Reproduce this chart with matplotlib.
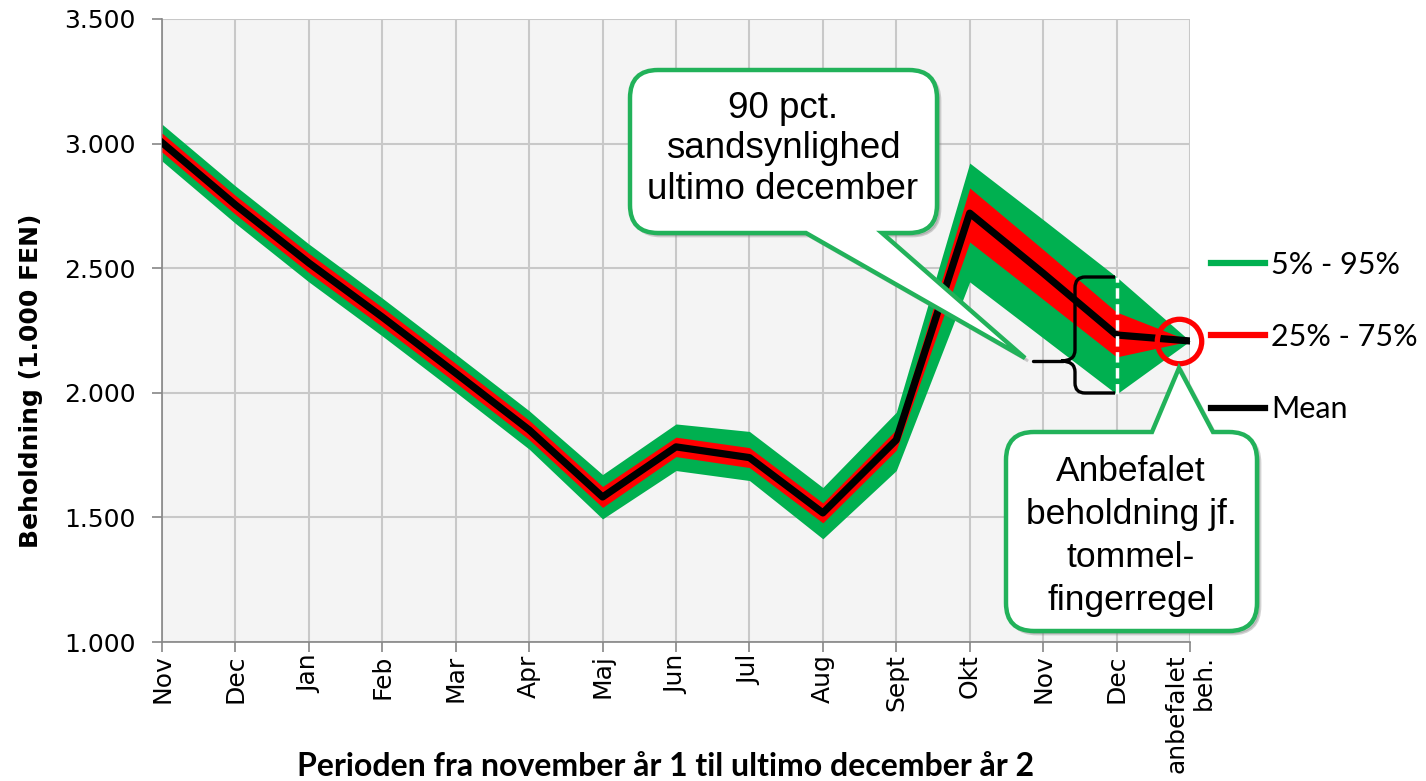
import numpy as np
import matplotlib.pyplot as plt
from matplotlib.path import Path
from matplotlib.patches import PathPatch
from matplotlib.lines import Line2D

W, H = 1426, 781

# periods on the x axis
months = ['Nov', 'Dec', 'Jan', 'Feb', 'Mar', 'Apr', 'Maj', 'Jun', 'Jul',
          'Aug', 'Sept', 'Okt', 'Nov', 'Dec', 'anbefalet\nbeh.']

# beholdning (1.000 FEN)
mean = [3004, 2754, 2521, 2304, 2079, 1851, 1582, 1783, 1740, 1518, 1811, 2721, 2480, 2232, 2208]
p95 = [3078, 2830, 2597, 2380, 2155, 1928, 1672, 1875, 1845, 1620, 1922, 2922, 2695, 2465, 2208]
p5 = [2930, 2680, 2445, 2228, 2003, 1774, 1494, 1688, 1648, 1414, 1688, 2445, 2220, 1995, 2208]
p75 = [3042, 2792, 2560, 2343, 2118, 1890, 1624, 1822, 1780, 1558, 1852, 2822, 2575, 2324, 2208]
p25 = [2966, 2716, 2482, 2265, 2040, 1812, 1540, 1744, 1700, 1478, 1770, 2605, 2375, 2144, 2208]

yticks = [1000, 1500, 2000, 2500, 3000, 3500]

GREEN = '#00b050'
RED = '#ff0000'
BOX_GREEN = '#22b25a'
AXCOL = '#868686'

x = np.arange(len(months))

fig = plt.figure(figsize=(W / 100, H / 100), dpi=100)
ax = fig.add_axes([162 / W, 1 - 642 / H, (1190 - 162) / W, (642 - 19) / H])
ax.set_facecolor('#f4f4f4')

ax.fill_between(x, p5, p95, color=GREEN, lw=0, zorder=2)
ax.fill_between(x, p25, p75, color=RED, lw=0, zorder=3)
ax.plot(x, mean, color='black', lw=5.2, solid_joinstyle='round', zorder=4)

# white dashed marker at ultimo december
ax.vlines(13, p5[13], p95[13], colors='white', linestyles=(0, (3, 1.6)), lw=2.5, zorder=5)

# red ring around recommended holding
ax.plot(13.85, mean[-1], marker='o', ms=32, mfc='none', mec=RED, mew=3.8,
        clip_on=False, zorder=6)

ax.set_xlim(0, 14)
ax.set_ylim(1000, 3500)
ax.set_xticks(x)
ax.set_xticklabels(months, rotation=90, fontsize=18, family='DejaVu Sans')
for lbl in ax.get_xticklabels():
    lbl.set_multialignment('right')
ax.set_yticks(yticks)
ax.set_yticklabels([f'{v:,}'.replace(',', '.') for v in yticks], fontsize=18,
                   family='DejaVu Sans')

ax.grid(color='#c8c8c8', lw=1.5, zorder=0)
ax.set_axisbelow(True)
for side in ['top', 'right']:
    ax.spines[side].set_visible(False)
for side in ['left', 'bottom']:
    ax.spines[side].set_color(AXCOL)
    ax.spines[side].set_linewidth(1.2)
ax.tick_params(axis='both', direction='out', length=7, width=1.2, color=AXCOL)
ax.tick_params(axis='y', pad=12)
ax.tick_params(axis='x', pad=2)

ax.set_ylabel('Beholdning (1.000 FEN)', fontsize=18, fontweight='bold', family='DejaVu Sans')
ax.yaxis.set_label_coords(-0.116, 0.42)
ax.set_xlabel('Perioden fra november år 1 til ultimo december år 2', fontsize=23,
              fontweight='bold', family='Lato')
ax.xaxis.set_label_coords(0.49, -0.176)

handles = [Line2D([], [], color=GREEN, lw=4.5),
           Line2D([], [], color=RED, lw=4.5),
           Line2D([], [], color='black', lw=4.5)]
ax.legend(handles, ['5% - 95%', '25% - 75%', 'Mean'], loc='center left',
          bbox_to_anchor=(1211 / W, 1 - 337 / H), bbox_transform=fig.transFigure,
          frameon=False, prop={'family': 'Lato', 'size': 22},
          handlelength=1.76, handletextpad=0.2, labelspacing=1.45,
          borderpad=0, borderaxespad=0)


def to_fig(pts):
    return [(px / W, 1 - py / H) for px, py in pts]


def callout(box, edge, base, tip, r=28):
    x0, y0, x1, y1 = box
    pts = [(x0 + r, y0)]
    codes = [Path.MOVETO]
    if edge == 'top':
        pts += [(base[0], y0), tip, (base[1], y0)]
        codes += [Path.LINETO] * 3
    pts += [(x1 - r, y0), (x1, y0), (x1, y0 + r), (x1, y1 - r), (x1, y1), (x1 - r, y1)]
    codes += [Path.LINETO, Path.CURVE3, Path.CURVE3, Path.LINETO, Path.CURVE3, Path.CURVE3]
    if edge == 'bottom':
        pts += [(base[1], y1), tip, (base[0], y1)]
        codes += [Path.LINETO] * 3
    pts += [(x0 + r, y1), (x0, y1), (x0, y1 - r), (x0, y0 + r), (x0, y0), (x0 + r, y0), (x0 + r, y0)]
    codes += [Path.LINETO, Path.CURVE3, Path.CURVE3, Path.LINETO, Path.CURVE3, Path.CURVE3, Path.CLOSEPOLY]
    shadow = [(px + 3, py + 3) for px, py in pts]
    fig.add_artist(PathPatch(Path(to_fig(shadow), codes), transform=fig.transFigure,
                             fc='#808080', ec='#808080', alpha=0.35, lw=2, zorder=5))
    fig.add_artist(PathPatch(Path(to_fig(pts), codes), transform=fig.transFigure,
                             fc='white', ec=BOX_GREEN, lw=3.2, zorder=6))


callout((630, 70, 937, 233), 'bottom', (806, 882), (1025, 358))
fig.text(783 / W, 1 - 149 / H, '90 pct.\nsandsynlighed\nultimo december',
         ha='center', va='center', fontsize=26.5, family='Liberation Sans', zorder=7)

callout((1006, 432, 1257, 631), 'top', (1152, 1213), (1179, 368))
fig.text(1131 / W, 1 - 536 / H, 'Anbefalet\nbeholdning jf.\ntommel-\nfingerregel',
         ha='center', va='center', fontsize=25.5, linespacing=1.38,
         family='Liberation Sans', zorder=7)

# curly brace spanning the 5%-95% range at december
brace = [(1115, 277), (1085, 277), (1075, 277), (1075, 288), (1075, 350), (1075, 361), (1061, 361),
         (1075, 361), (1075, 372), (1075, 383), (1075, 393), (1085, 393), (1115, 393)]
bcodes = [Path.MOVETO, Path.LINETO, Path.CURVE3, Path.CURVE3, Path.LINETO, Path.CURVE3, Path.CURVE3,
          Path.CURVE3, Path.CURVE3, Path.LINETO, Path.CURVE3, Path.CURVE3, Path.LINETO]
fig.add_artist(PathPatch(Path(to_fig(brace), bcodes), transform=fig.transFigure,
                         fc='none', ec='black', lw=2.4, zorder=6))
fig.add_artist(Line2D([1033 / W, 1063 / W], [1 - 361 / H, 1 - 361 / H], transform=fig.transFigure,
                      color='black', lw=2.4, solid_capstyle='round', zorder=6))

fig.savefig('out.png', dpi=100)
